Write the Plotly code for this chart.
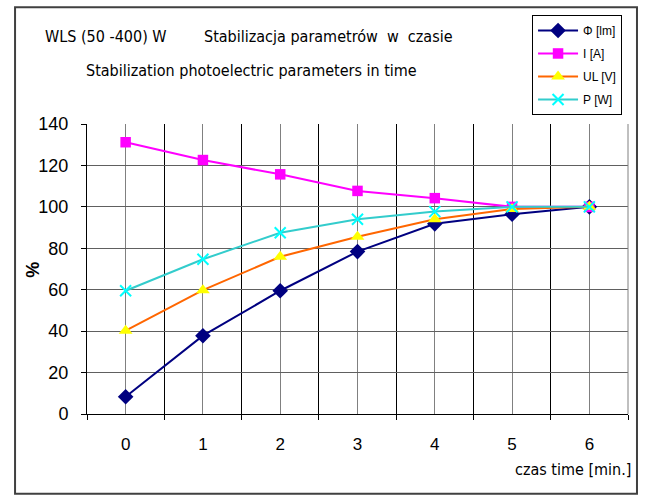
import plotly.graph_objects as go

minutes = [0, 1, 2, 3, 4, 5, 6]
tick_labels = ["0", "1", "2", "3", "4", "5", "6"]
phi_lm = [8.3, 37.8, 59.5, 78.4, 91.8, 96.4, 100]
i_a = [131.2, 122.6, 115.7, 107.7, 104.2, 100, 100]
ul_v = [40.2, 59.8, 75.9, 85.6, 94.0, 99.0, 100]
p_w = [59.5, 74.7, 87.5, 94.0, 97.7, 100, 100]
y_ticks = [0, 20, 40, 60, 80, 100, 120, 140]

FONT = "DejaVu Sans Condensed, Liberation Sans Narrow, Arial Narrow, Liberation Sans, Arial, sans-serif"
FONT2 = "Liberation Sans, Arial, sans-serif"

fig = go.Figure()
series = [
    ("Φ [lm]", phi_lm, "#000080", dict(symbol="diamond", size=12, color="#000080")),
    ("I [A]", i_a, "#FF00FF", dict(symbol="square", size=10.5, color="#FF00FF")),
    ("UL [V]", ul_v, "#FF6600", dict(symbol="triangle-up", size=12, color="#FFFF00")),
    ("P [W]", p_w, "#33CCCC", dict(symbol="x-thin", size=11, line=dict(color="#00FFFF", width=2))),
]
for k, (name, ys, lc, mk) in enumerate(series):
    fig.add_trace(go.Scatter(
        x=minutes, y=ys, name=name, mode="lines+markers",
        line=dict(color=lc, width=2), marker=mk, legendgroup=f"g{k}",
    ))

fig.update_layout(
    width=645, height=496,
    margin=dict(l=87, r=17, t=124, b=82),
    paper_bgcolor="white", plot_bgcolor="white",
    font=dict(family=FONT2, size=15, color="black"),
    showlegend=True,
    legend=dict(
        x=0.989, xanchor="right", y=1.376, yanchor="top",
        bordercolor="black", borderwidth=1, bgcolor="white",
        font=dict(size=12), tracegroupgap=4, itemwidth=40,
    ),
    xaxis=dict(
        range=[-0.5, 6.5], tickmode="array", tickvals=minutes, ticktext=tick_labels,
        showgrid=True, gridcolor="#808080", gridwidth=1,
        ticks="", showline=True, linecolor="black", linewidth=1, mirror=False,
        zeroline=False, ticklabelstandoff=15,
        minor=dict(tick0=0.5, dtick=1, showgrid=True, gridcolor="black", gridwidth=1,
                   ticks="outside", ticklen=5, tickcolor="black"),
        tickfont=dict(size=17),
    ),
    yaxis=dict(
        range=[0, 140], tickmode="array", tickvals=y_ticks,
        showgrid=True, gridcolor="#606060", gridwidth=1.3,
        ticks="outside", ticklen=5, tickcolor="black",
        showline=True, linecolor="black", linewidth=1,
        zeroline=False, tickfont=dict(size=18), ticklabelstandoff=9,
    ),
)

fig.add_shape(type="rect", xref="paper", yref="paper",
              x0=-0.133, x1=1.0166, y0=-0.275, y1=1.403,
              line=dict(color="#404040", width=2), layer="below")
fig.add_shape(type="line", xref="paper", yref="paper", x0=1, x1=1, y0=0, y1=1,
              line=dict(color="#808080", width=1))

fig.add_annotation(text="WLS (50 -400) W",
                   xref="paper", yref="paper", x=-0.081, y=1.30,
                   xanchor="left", yanchor="middle", showarrow=False,
                   font=dict(family=FONT, size=16))
fig.add_annotation(text="Stabilizacja parametrów  w  czasie",
                   xref="paper", yref="paper", x=0.212, y=1.30,
                   xanchor="left", yanchor="middle", showarrow=False,
                   font=dict(family=FONT, size=16))
fig.add_annotation(text="Stabilization photoelectric parameters in time",
                   xref="paper", yref="paper", x=-0.006, y=1.186,
                   xanchor="left", yanchor="middle", showarrow=False,
                   font=dict(family=FONT, size=16))
fig.add_annotation(text="<b>%</b>", xref="paper", yref="paper", x=-0.1, y=0.497,
                   xanchor="center", yanchor="middle", showarrow=False, textangle=-90,
                   font=dict(size=18))
fig.add_annotation(text="czas time [min.]", xref="paper", yref="paper", x=1.009, y=-0.193,
                   xanchor="right", yanchor="middle", showarrow=False,
                   font=dict(family=FONT, size=16))

fig.write_html("out.html")
